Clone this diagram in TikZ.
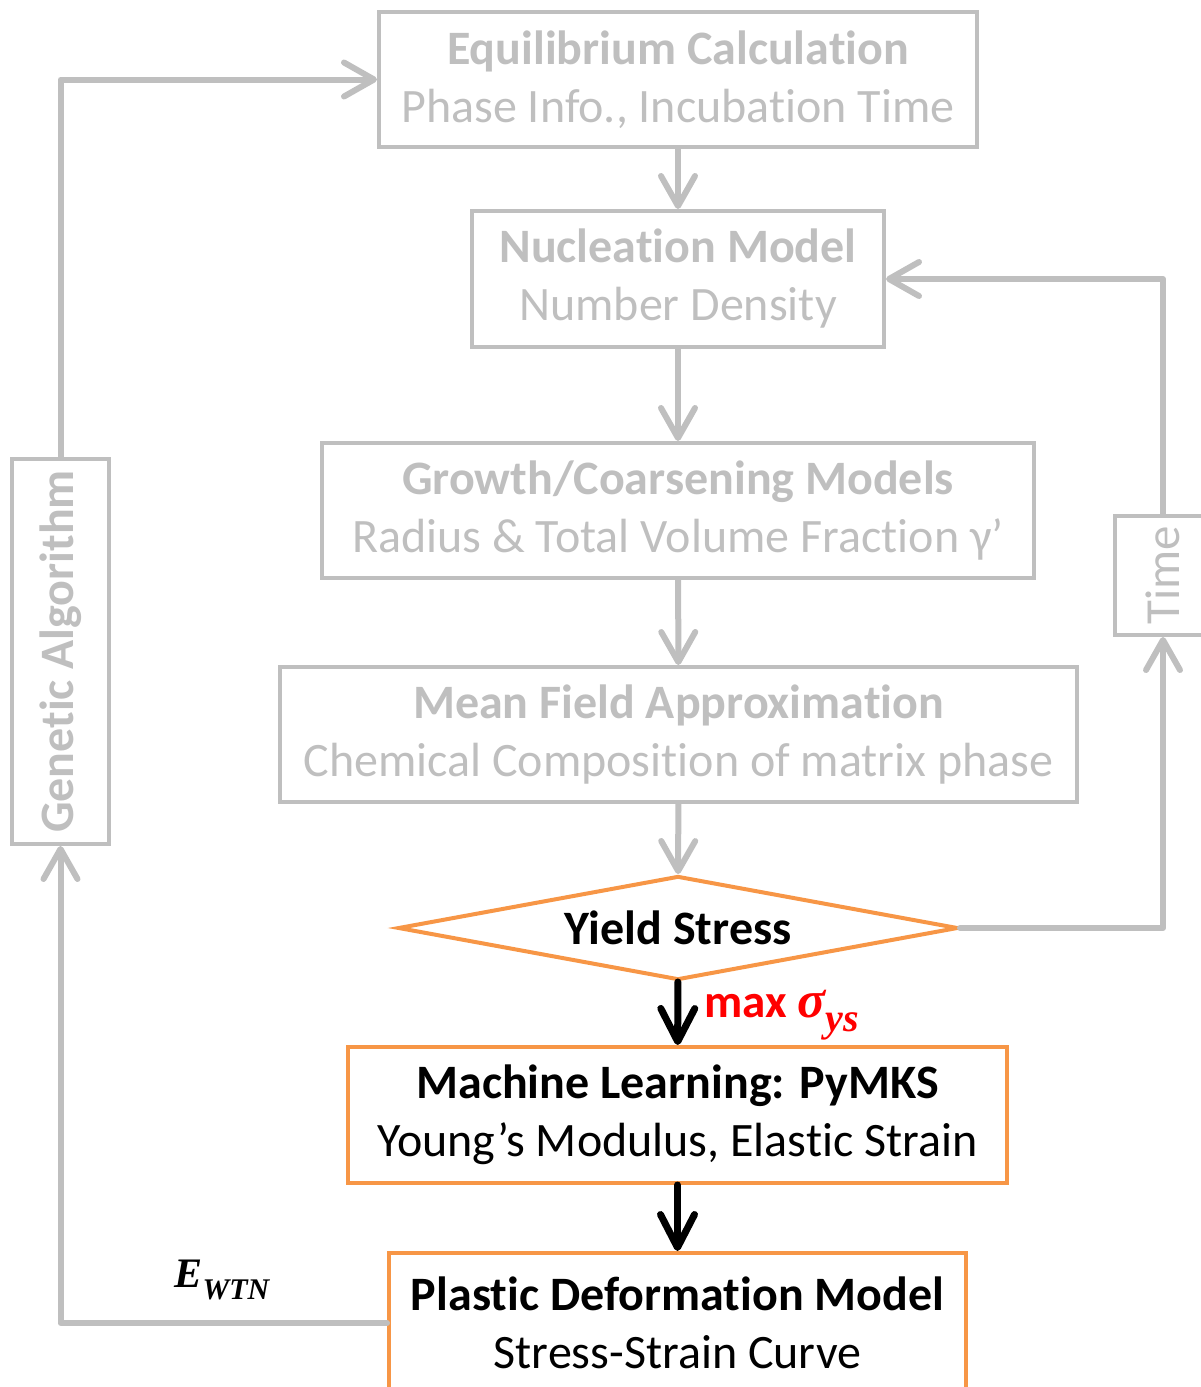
\documentclass[tikz,border=0pt]{standalone}
\usepackage{fontspec}
\setmainfont{Carlito}[Ligatures=NoCommon]
\newfontfamily\symfont{Liberation Serif}
\usetikzlibrary{arrows.meta,shapes.geometric}
\definecolor{flowgrey}{RGB}{191,191,191}
\definecolor{floworange}{RGB}{247,150,70}
% bold italic serif symbol with a lowered subscript
\newcommand{\symsub}[3]{{\symfont\bfseries\itshape #1\raisebox{-0.28em}{\fontsize{#3}{#3}\selectfont #2}}}
\begin{document}
\begin{tikzpicture}[x=1pt,y=-1pt,
  boxtext/.style={align=center, inner sep=0pt, font=\fontsize{48}{58}\selectfont},
  greybox/.style={boxtext, draw=flowgrey, line width=4pt, text=flowgrey},
  orangebox/.style={boxtext, draw=floworange, line width=4pt, text=black},
  greyline/.style={draw=flowgrey, line width=6pt, line join=round, line cap=round},
  greyarrow/.style={greyline, -{Straight Barb[length=30pt,width=34pt,round]}},
  blackarrow/.style={draw=black, line width=7pt, line cap=round,
    -{Straight Barb[length=33pt,width=34pt,round]}}]
\useasboundingbox (0,0) rectangle (1200,1387);

% main chain of models
\node[greybox, minimum width=598pt, minimum height=135pt] (eq) at (678,79.5)
  {\textbf{Equilibrium Calculation}\\Phase Info., Incubation Time};
\node[greybox, minimum width=412pt, minimum height=136pt] (nuc) at (678,279)
  {\textbf{Nucleation Model}\\Number Density};
\node[greybox, minimum width=712pt, minimum height=135pt] (gr) at (678,510.5)
  {\textbf{Growth/Coarsening Models}\\Radius \& Total Volume Fraction γ’};
\node[greybox, minimum width=797pt, minimum height=135pt] (mf) at (678.5,734.5)
  {\textbf{Mean Field Approximation}\\Chemical Composition of matrix phase};
\node[draw=floworange, line width=4pt, diamond, shape aspect=5.4, inner sep=0pt,
  minimum width=560pt, minimum height=104pt,
  font=\bfseries\fontsize{48}{58}\selectfont] (ys) at (678,928) {Yield Stress};
\node[orangebox, minimum width=659pt, minimum height=136pt] (ml) at (677.5,1115)
  {\textbf{Machine Learning: PyMKS}\\Young’s Modulus, Elastic Strain};
\node[orangebox, minimum width=577pt, minimum height=140pt] (pd) at (677.5,1323)
  {\textbf{Plastic Deformation Model}\\Stress-Strain Curve};

% side boxes of the two loops
\node[greybox, rotate=90, minimum width=385pt, minimum height=97pt,
  font=\bfseries\fontsize{48}{58}\selectfont] (ga) at (60.5,651.5) {Genetic Algorithm};
\node[greybox, rotate=90, minimum width=119pt, minimum height=96pt,
  font=\fontsize{49}{58}\selectfont] (time) at (1163,575.5) {Time};

% connectors
\draw[greyarrow] (eq) -- (nuc);
\draw[greyarrow] (nuc) -- (gr);
\draw[greyarrow] (gr) -- (mf);
\draw[greyarrow] (mf) -- (ys);
\draw[blackarrow] (ys) -- (ml);
\draw[blackarrow] (ml) -- (pd);

\draw[greyarrow] (ys.east) -| (time);
\draw[greyarrow] (time) |- (nuc);
\draw[greyarrow] (pd.west) -| (ga);
\draw[greyarrow] (ga) |- (eq);

% labels
\node[text=red, anchor=west, inner sep=0pt, font=\fontsize{47}{56}\selectfont]
  (maxlab) at (704,1015) {\textbf{max} {\fontsize{52}{56}\selectfont\symsub{σ}{ys}{40}}};
\node[inner sep=0pt, font=\fontsize{42}{50}\selectfont] (ewtn) at (222,1280) {\symsub{E}{WTN}{30}};
\end{tikzpicture}
\end{document}
